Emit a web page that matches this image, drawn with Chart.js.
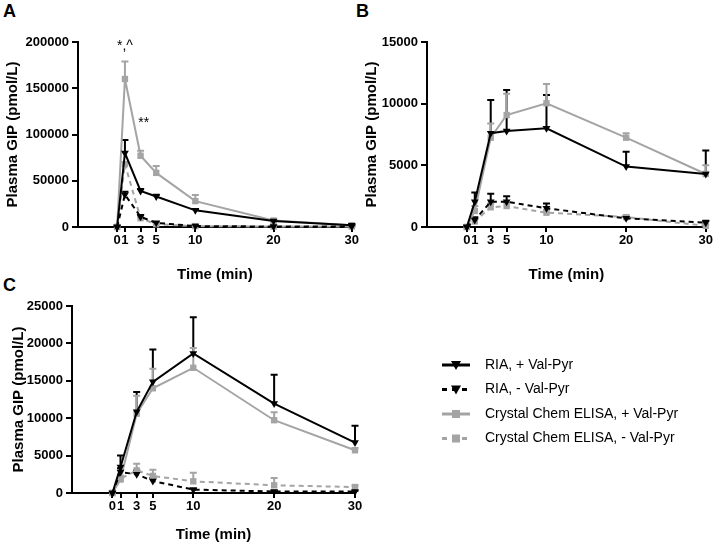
<!DOCTYPE html>
<html>
<head>
<meta charset="utf-8">
<script src="https://cdn.jsdelivr.net/npm/chart.js@4.4.1/dist/chart.umd.min.js"></script>
<style>
  body { margin: 0; background: #fff; width: 714px; height: 549px; position: relative; overflow: hidden; }
  canvas { position: absolute; }
  .lbl { position: absolute; font: bold 18px 'Liberation Sans', Arial, sans-serif; line-height: 18px; color: #000; }
</style>
</head>
<body>
<div class="lbl" style="left:3px;top:2px">A</div>
<div class="lbl" style="left:356px;top:2px">B</div>
<div class="lbl" style="left:3px;top:276px">C</div>
<canvas id="chartA" width="360" height="290" style="left:0;top:0"></canvas>
<canvas id="chartB" width="364" height="290" style="left:350px;top:0"></canvas>
<canvas id="chartC" width="714" height="269" style="left:0;top:280px"></canvas>
<script>
// time points (min)
var times = [0, 1, 3, 5, 10, 20, 30];
var xTicks = [0, 1, 3, 5, 10, 20, 30];
var seriesNames = ['RIA, + Val-Pyr', 'RIA, - Val-Pyr', 'Crystal Chem ELISA, + Val-Pyr', 'Crystal Chem ELISA, - Val-Pyr'];

// panel A
var riaPlusA = [0, 80000, 39000, 33000, 18000, 6500, 2000];
var riaPlusAErr = [0, 94000, 41000, 35000, 19500, 7500, 2800];
var riaMinusA = [0, 35000, 11000, 4500, 1000, 500, 500];
var riaMinusAErr = [0, 38000, 13000, 5500, 1500, 800, 800];
var elisaPlusA = [0, 160000, 77000, 58500, 28000, 7000, 2000];
var elisaPlusAErr = [0, 179000, 82500, 66000, 34500, 8000, 2500];
var elisaMinusA = [0, 68000, 9500, 3000, 1000, 500, 500];
var elisaMinusAErr = [0, 70000, 10500, 3500, 1300, 700, 700];
var notesA = [{x: 1, y: 196000, text: '*,^'}, {x: 3.4, y: 112000, text: '**'}];

// panel B
var riaPlusB = [0, 2050, 7600, 7780, 8000, 4900, 4300];
var riaPlusBErr = [0, 2800, 10300, 11100, 10700, 6100, 6200];
var riaMinusB = [0, 570, 2050, 2050, 1520, 700, 350];
var riaMinusBErr = [0, 800, 2700, 2500, 1900, 850, 500];
var elisaPlusB = [0, 1300, 7240, 9080, 10030, 7240, 4300];
var elisaPlusBErr = [0, 1700, 8400, 10800, 11600, 7600, 5000];
var elisaMinusB = [0, 450, 1600, 1700, 1160, 800, 100];
var elisaMinusBErr = [0, 650, 1900, 2000, 1400, 950, 200];

// panel C
var riaPlusC = [0, 3480, 10850, 14860, 18660, 11960, 6740];
var riaPlusCErr = [0, 5000, 13500, 19200, 23500, 15800, 9000];
var riaMinusC = [0, 2800, 2500, 1600, 450, 200, 200];
var riaMinusCErr = [0, 3300, 3000, 2000, 600, 300, 300];
var elisaPlusC = [0, 1800, 10600, 14000, 16740, 9730, 5710];
var elisaPlusCErr = [0, 2200, 13000, 16600, 19400, 10800, 6000];
var elisaMinusC = [0, 1900, 3030, 2280, 1560, 1030, 800];
var elisaMinusCErr = [0, 2300, 3900, 3100, 2700, 2000, 1000];

var BLACK = '#000000';
var GRAY = '#a4a4a4';
Chart.defaults.font.family = "'Liberation Sans', Arial, sans-serif";
Chart.defaults.color = '#000';

function pts(vals) {
    return vals.map(function (v, i) { return {x: times[i], y: v}; });
}

function makeSets(riaP, riaPE, riaM, riaME, elP, elPE, elM, elME) {
    var tri = {pointStyle: 'triangle', rotation: 180, pointRadius: 4.5};
    var sq = {pointStyle: 'rect', rotation: 0, pointRadius: 4.5};
    var sets = [
        Object.assign({label: seriesNames[0], data: pts(riaP), errUp: riaPE, borderColor: BLACK, backgroundColor: BLACK, borderDash: []}, tri),
        Object.assign({label: seriesNames[1], data: pts(riaM), errUp: riaME, borderColor: BLACK, backgroundColor: BLACK, borderDash: [5, 4]}, tri),
        Object.assign({label: seriesNames[2], data: pts(elP), errUp: elPE, borderColor: GRAY, backgroundColor: GRAY, borderDash: []}, sq),
        Object.assign({label: seriesNames[3], data: pts(elM), errUp: elME, borderColor: GRAY, backgroundColor: GRAY, borderDash: [5, 4]}, sq)
    ];
    sets.forEach(function (s) {
        s.borderWidth = 2;
        s.fill = false;
        s.tension = 0;
        s.clip = false;
        s.pointBorderWidth = 0;
        s.pointHoverRadius = 4.5;
    });
    return sets;
}

var errorBars = {
    id: 'errorBars',
    beforeDatasetsDraw: function (chart) {
        var ctx = chart.ctx, xs = chart.scales.x, ys = chart.scales.y;
        chart.data.datasets.forEach(function (ds) {
            if (!ds.errUp) return;
            ctx.save();
            ctx.strokeStyle = ds.borderColor;
            ctx.lineWidth = 2;
            ds.data.forEach(function (p, i) {
                var up = ds.errUp[i];
                if (up == null || up <= p.y) return;
                var x = xs.getPixelForValue(p.x);
                var y0 = ys.getPixelForValue(p.y);
                var y1 = ys.getPixelForValue(up);
                ctx.beginPath();
                ctx.moveTo(x, y0);
                ctx.lineTo(x, y1);
                ctx.moveTo(x - 3.5, y1);
                ctx.lineTo(x + 3.5, y1);
                ctx.stroke();
            });
            ctx.restore();
        });
    }
};

var notes = {
    id: 'notes',
    afterDatasetsDraw: function (chart, args, opts) {
        if (!opts.items) return;
        var ctx = chart.ctx;
        ctx.save();
        ctx.font = "14px 'Liberation Sans', Arial, sans-serif";
        ctx.fillStyle = '#000';
        ctx.textAlign = 'center';
        ctx.textBaseline = 'middle';
        opts.items.forEach(function (n) {
            ctx.fillText(n.text, chart.scales.x.getPixelForValue(n.x), chart.scales.y.getPixelForValue(n.y));
        });
        ctx.restore();
    }
};

var sideLegend = {
    id: 'sideLegend',
    afterDraw: function (chart, args, opts) {
        if (!opts.show) return;
        var ctx = chart.ctx;
        ctx.save();
        chart.data.datasets.forEach(function (ds, i) {
            var y = opts.top + i * opts.gap;
            ctx.strokeStyle = ds.borderColor;
            ctx.lineWidth = 3;
            ctx.setLineDash(ds.borderDash.length ? [5, 5] : []);
            ctx.beginPath();
            ctx.moveTo(opts.left, y);
            ctx.lineTo(opts.left + 28, y);
            ctx.stroke();
            ctx.setLineDash([]);
            var cx = opts.left + 14;
            ctx.fillStyle = ds.backgroundColor;
            ctx.beginPath();
            if (ds.pointStyle === 'triangle') {
                ctx.moveTo(cx - 5, y - 4);
                ctx.lineTo(cx + 5, y - 4);
                ctx.lineTo(cx, y + 5);
            } else {
                ctx.rect(cx - 4, y - 4, 8, 8);
            }
            ctx.fill();
            ctx.fillStyle = '#000';
            ctx.font = "14px 'Liberation Sans', Arial, sans-serif";
            ctx.textBaseline = 'middle';
            ctx.textAlign = 'left';
            ctx.fillText(ds.label, opts.left + 43, y);
        });
        ctx.restore();
    }
};

function makePanel(id, sets, cfg) {
    return new Chart(document.getElementById(id), {
        type: 'line',
        data: {datasets: sets},
        plugins: [errorBars, notes, sideLegend],
        options: {
            responsive: false,
            animation: false,
            events: [],
            layout: {padding: {top: cfg.padTop, right: cfg.padRight, left: 0, bottom: 0}},
            plugins: {
                legend: {display: false},
                tooltip: {enabled: false},
                notes: {items: cfg.notes || null},
                sideLegend: cfg.legend || {show: false}
            },
            scales: {
                x: {
                    type: 'linear',
                    min: -5,
                    max: 30,
                    afterBuildTicks: function (scale) {
                        scale.ticks = xTicks.map(function (v) { return {value: v}; });
                    },
                    afterFit: function (scale) { scale.height = cfg.xHeight; },
                    ticks: {autoSkip: false, maxRotation: 0, padding: 1, font: {size: 13, weight: 'bold'}, color: '#000'},
                    grid: {drawOnChartArea: false, drawTicks: true, tickLength: 5, color: '#000', lineWidth: 2},
                    border: {display: true, color: '#000', width: 2},
                    title: {display: true, text: 'Time (min)', font: {size: 15, weight: 'bold'}, color: '#000', padding: {top: 0, bottom: cfg.xTitlePad}}
                },
                y: {
                    min: 0,
                    max: cfg.yMax,
                    afterFit: function (scale) { scale.width = cfg.yWidth; },
                    ticks: {stepSize: cfg.yStep, padding: 3, font: {size: 13, weight: 'bold'}, color: '#000',
                        callback: function (v) { return String(v); }},
                    grid: {drawOnChartArea: false, drawTicks: true, tickLength: 6, color: '#000', lineWidth: 2},
                    border: {display: true, color: '#000', width: 2},
                    title: {display: true, text: 'Plasma GIP (pmol/L)', font: {size: 15, weight: 'bold'}, color: '#000', padding: {top: cfg.yTitlePad, bottom: 0}}
                }
            }
        }
    });
}

makePanel('chartA', makeSets(riaPlusA, riaPlusAErr, riaMinusA, riaMinusAErr, elisaPlusA, elisaPlusAErr, elisaMinusA, elisaMinusAErr), {
    padTop: 42, padRight: 5, xHeight: 63, yWidth: 78, yMax: 200000, yStep: 50000, xTitlePad: 6, yTitlePad: 4, notes: notesA
});

makePanel('chartB', makeSets(riaPlusB, riaPlusBErr, riaMinusB, riaMinusBErr, elisaPlusB, elisaPlusBErr, elisaMinusB, elisaMinusBErr), {
    padTop: 42, padRight: 5, xHeight: 63, yWidth: 77, yMax: 15000, yStep: 5000, xTitlePad: 6, yTitlePad: 13
});

makePanel('chartC', makeSets(riaPlusC, riaPlusCErr, riaMinusC, riaMinusCErr, elisaPlusC, elisaPlusCErr, elisaMinusC, elisaMinusCErr), {
    padTop: 26, padRight: 359, xHeight: 56, yWidth: 72, yMax: 25000, yStep: 5000, xTitlePad: 5, yTitlePad: 10,
    legend: {show: true, left: 442, top: 85, gap: 24.5}
});
</script>
</body>
</html>
